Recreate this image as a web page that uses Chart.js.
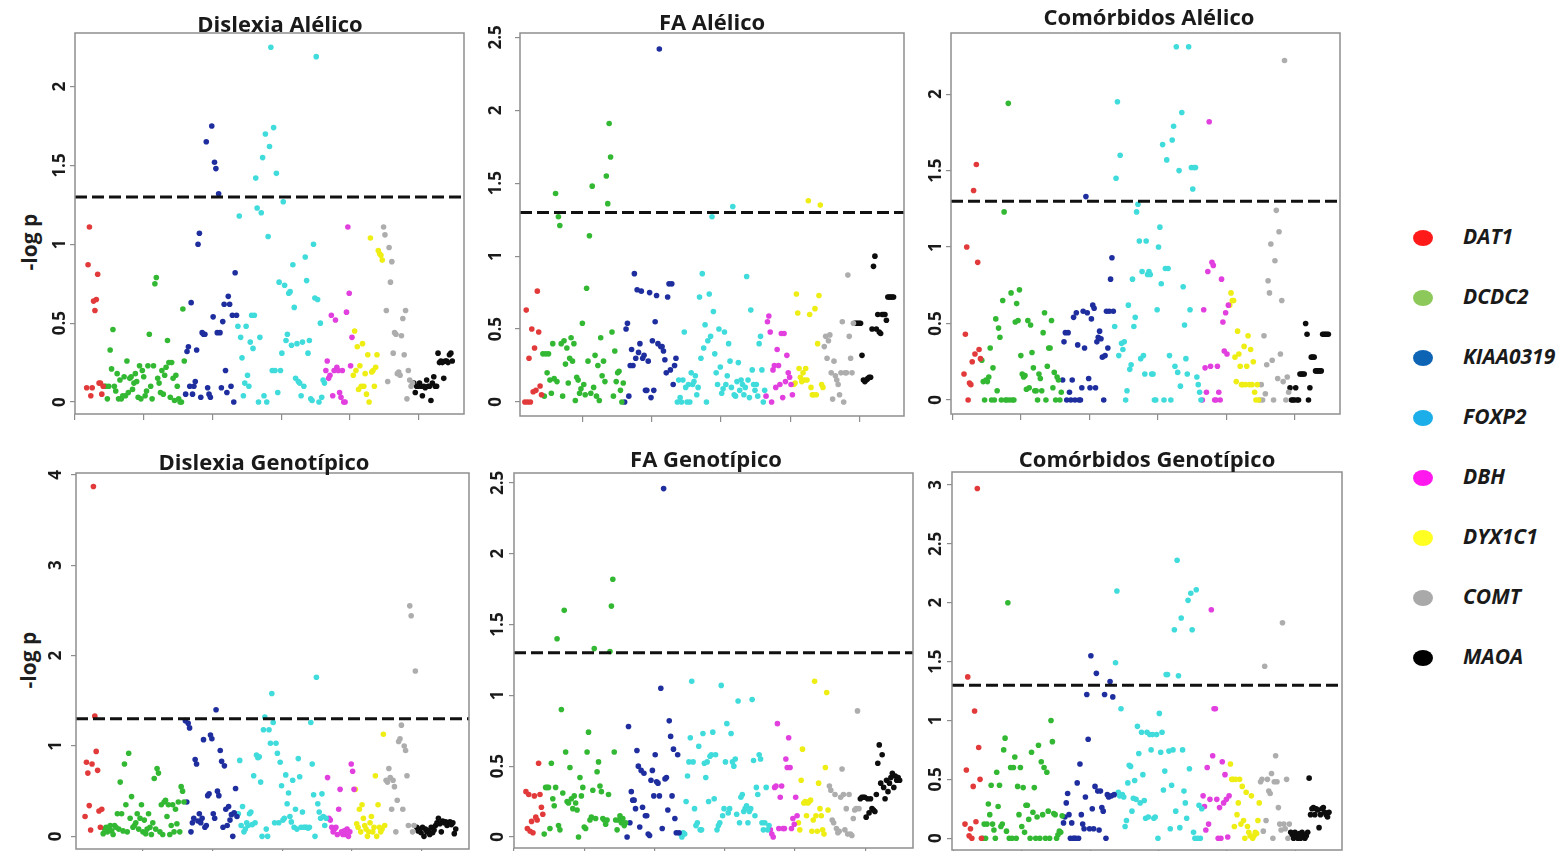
<!DOCTYPE html>
<html>
<head>
<meta charset="utf-8">
<script src="https://cdn.jsdelivr.net/npm/chart.js@4.4.1/dist/chart.umd.min.js"></script>
<style>
  body { margin: 0; width: 1566px; height: 851px; overflow: hidden; background: #fff; position: relative; font-family: "Open Sans", sans-serif; }
  canvas { position: absolute; }
  .ylab { position: absolute; font: bold 21px "Open Sans", sans-serif; color: #1e1e1e; white-space: nowrap; transform: translate(-50%, -50%) rotate(-90deg); }
  .fila { position: absolute; left: 1410px; height: 24px; }
  .fila .punto { position: absolute; left: 3px; top: 0; width: 20px; height: 16px; border-radius: 50%; }
  .fila .nombre { position: absolute; left: 53px; top: -8px; font: italic bold 21px "Open Sans", sans-serif; color: #1a1a1a; white-space: nowrap; }
</style>
</head>
<body>
<div class="ylab" style="left:29px; top:242px;">-log p</div>
<div class="ylab" style="left:28px; top:660px;">-log p</div>
<div id="leyenda"></div>

<script>
// genes en el orden del cromosoma / eje x
const genes = ["DAT1", "DCDC2", "KIAA0319", "FOXP2", "DBH", "DYX1C1", "COMT", "MAOA"];
// rango de índices de SNP que ocupa cada gen
const snpInicio = [8, 21, 80, 118, 182, 202, 224, 246];
const snpFin = [21, 80, 118, 182, 202, 224, 246, 275];
const umbral = 1.3; // -log10(0.05)

// -log p por gen, cada lista en orden de SNP
const dislexiaAlelico = [
  [0.09,0.87,1.11,0.04,0.09,0.64,0.58,0.65,0.81,0.12,0.12,0.05,0.1],
  [0.1,0.1,0.02,0.1,0.33,0.21,0.46,0.1,0.07,0.18,0.02,0.14,0.02,0.04,0.16,0.04,0.26,0.06,0.15,0.16,0.08,0.12,0.18,0.13,0.03,0.23,0.02,0.2,0.16,0.04,0.07,0.23,0.43,0.1,0.02,0.23,0.75,0.79,0.15,0.12,0.06,0.2,0.05,0.17,0.22,0.39,0.25,0.03,0.25,0.15,0.01,0.17,0.1,0.02,0.0,0.0,0.59,0.26],
  [0.05,0.32,0.35,0.1,0.63,0.05,0.1,0.13,0.33,1.0,1.07,0.03,0.44,0.43,0.43,1.65,0.09,0.05,0.03,1.75,0.54,1.52,1.48,0.44,1.32,0.44,0.09,0.51,0.62,0.2,0.06,0.67,0.62,0.1,0.55,0.0,0.82,0.55],
  [0.48,1.18,0.41,0.28,0.04,0.12,0.48,0.17,0.1,0.38,0.55,0.34,0.55,1.42,1.23,0.0,0.41,1.2,1.55,0.04,1.7,0.0,1.05,1.62,2.25,0.2,1.74,0.2,1.45,0.06,0.76,0.2,0.31,1.27,0.74,0.39,0.43,0.69,0.7,0.36,0.87,0.6,0.15,0.37,0.13,0.12,0.04,0.38,0.1,0.92,0.77,0.31,0.39,0.02,0.01,1.0,0.66,2.19,0.65,0.0,0.5,0.03,0.14,0.12],
  [0.2,0.26,0.15,0.17,0.55,0.04,0.2,0.52,0.22,0.2,0.06,0.03,0.2,0.0,0.0,0.57,1.11,0.69,0.23,0.41],
  [0.17,0.45,0.2,0.35,0.08,0.23,0.1,0.37,0.1,0.18,0.05,0.3,0.0,1.04,0.19,0.2,0.1,0.22,0.3,0.96,0.94,0.93,0.9],
  [1.11,1.06,0.58,0.13,0.98,0.76,0.89,0.31,0.44,0.43,0.18,0.19,0.17,0.42,0.53,0.3,0.58,0.02,0.2,0.14,0.1,0.12],
  [0.12,0.06,0.1,0.1,0.12,0.1,0.04,0.1,0.09,0.14,0.1,0.1,0.01,0.12,0.16,0.1,0.1,0.31,0.25,0.26,0.25,0.15,0.26,0.26,0.25,0.3,0.31,0.26]
];

const faAlelico = [
  [0,0.63,0,0.3,0,0.5,0.07,0.37,0.08,0.76,0.48,0.11,0.05],
  [0.33,0.04,0.33,0.2,0.33,0.15,0.06,0.4,0.16,1.43,0.14,1.27,1.21,0.4,0.04,0.42,0.26,0.37,0.13,0.3,0.44,0.28,0.4,0.01,0.17,0.15,0.06,0.09,0.54,0.12,0.05,0.78,0.28,1.14,0.06,1.48,0.1,0.32,0.04,0.25,0.01,0.44,0.18,0.28,0.14,1.55,1.36,1.91,1.68,0.48,0.04,0.35,0.14,0.2,0.21,0.08,0.0,0.13],
  [0.0,0.5,0.54,0.04,0.25,0.36,0.25,0.88,0.3,0.77,0.34,0.4,0.76,0.3,0.32,0.08,0.08,0.28,0.75,0.03,0.42,0.08,0.55,0.73,0.4,2.42,0.38,0.38,0.35,0.29,0.2,0.72,0.81,0.22,0.81,0.12,0.25,0.3],
  [0.0,0.15,0.03,0.0,0.15,0.48,0.1,0.0,0.12,0.0,0.2,0.12,0.14,0.18,0.05,0.1,0.72,0.3,0.88,0.37,0.53,0.0,0.42,0.74,0.45,1.27,0.62,0.33,0.2,0.12,0.5,0.24,0.06,0.09,0.48,0.12,0.18,0.4,0.28,0.1,1.34,0.05,0.04,0.14,0.27,0.08,0.15,0.12,0.05,0.1,0.86,0.15,0.03,0.63,0.22,0.12,0.08,0.12,0.04,0.4,0.45,0.22,0.0,0.08],
  [0.04,0.55,0.59,0.48,0.0,0.22,0.25,0.1,0.36,0.25,0.12,0.47,0.03,0.47,0.14,0.32,0.2,0.17,0.12,0.05],
  [0.12,0.13,0.74,0.61,0.23,0.17,0.14,0.2,0.15,0.23,0.15,1.38,0.6,0.1,0.05,0.05,0.64,0.05,0.4,0.73,1.35,0.12,0.1],
  [0.38,0.45,0.3,0.42,0.46,0.2,0.02,0.28,0.18,0.15,0.12,0.05,0.2,0.55,0.0,0.2,0.2,0.87,0.45,0.3,0.2,0.54],
  [0.54,0.54,0.54,0.54,0.54,0.32,0.15,0.14,0.15,0.16,0.17,0.17,0.5,0.93,1.0,0.5,0.6,0.48,0.47,0.6,0.6,0.6,0.56,0.72,0.72,0.72,0.72,0.72]
];

const comorbidosAlelico = [
  [0.17,0.43,1.0,0.0,0.11,0.1,0.25,1.37,0.3,1.54,0.9,0.33,0.27],
  [0.26,0.12,0.0,0.13,0.12,0.15,0.34,0.0,0.21,0.0,0.53,0.06,0.47,0.41,0.0,0.65,1.23,0.0,0.0,1.94,0.0,0.7,0.0,0.0,0.51,0.63,0.52,0.72,0.29,0.17,0.15,0.16,0.07,0.52,0.08,0.49,0.31,0.21,0.06,0.06,0.0,0.17,0.14,0.06,0.44,0.57,0.0,0.22,0.34,0.34,0.52,0.08,0.18,0.0,0.15,0.13,0.0,0.05],
  [0.13,0.38,0.44,0.0,0.44,0.05,0.0,0.13,0.54,0.0,0.57,0.36,0.0,0.0,0.08,0.58,0.34,1.33,0.57,0.14,0.08,0.53,0.62,0.6,0.08,0.38,0.41,0.45,0.4,0.28,0.0,0.29,0.58,0.34,0.58,0.79,0.93,0.58],
  [0.48,1.45,1.95,0.29,1.6,0.37,0.33,0.38,0.0,0.06,0.62,0.2,0.23,0.79,0.48,0.54,1.23,1.28,1.04,0.27,0.84,0.29,0.17,1.04,0.82,0.84,0.82,0.17,0.17,0.0,0.0,0.59,1.0,1.13,0.76,1.67,0.0,0.86,1.57,0.86,0.29,0.0,1.7,1.79,0.22,2.31,0.18,1.5,0.09,1.88,0.74,0.49,0.27,0.17,2.31,0.59,1.52,1.38,1.52,1.52,0.15,0.1,0.05,0.0],
  [0.0,0.59,0.21,0.05,0.84,1.82,0.22,0.9,0.88,0.0,0.0,0.22,0.05,0.0,0.79,0.51,0.32,0.57,0.3,0.62],
  [0.62,0.7,0.65,0.65,0.28,0.12,0.45,0.3,0.22,0.1,0.1,0.35,0.1,0.22,0.42,0.1,0.33,0.1,0.25,0.05,0.0,0.1,0.0],
  [0.0,0.1,0.0,0.42,0.04,0.23,0.78,0.7,1.02,0.26,0.0,0.91,1.24,0.14,1.1,0.3,0.65,0.12,2.22,0.0,0.15,0.05],
  [0.08,0.0,0.0,0.0,0.08,0.0,0.0,0.17,0.17,0.17,0.17,0.5,0.43,0.0,0.08,0.28,0.28,0.28,0.19,0.19,0.19,0.19,0.19,0.43,0.43,0.43,0.43,0.43]
];

const dislexiaGenotipico = [
  [0.22,0.82,0.7,0.34,0.07,0.8,3.87,1.33,0.94,0.73,0.28,0.1,0.3],
  [0.03,0.08,0.1,0.05,0.1,0.12,0.06,0.02,0.12,0.1,0.25,0.08,0.6,0.25,0.06,0.8,0.35,0.05,0.92,0.2,0.44,0.1,0.12,0.15,0.25,0.08,0.2,0.35,0.05,0.18,0.03,0.08,0.25,0.1,0.02,0.15,0.64,0.08,0.75,0.7,0.05,0.35,0.02,0.38,0.4,0.22,0.35,0.02,0.12,0.35,0.05,0.3,0.14,0.38,0.05,0.55,0.5,0.38],
  [1.28,0.38,1.25,1.2,0.05,0.15,0.2,0.85,0.8,0.17,0.25,0.15,0.2,1.07,0.1,0.12,0.45,0.47,1.12,1.08,0.25,0.2,1.4,0.5,0.45,0.95,0.83,0.1,0.78,0.3,0.12,0.33,0.18,0.24,0.0,0.26,0.53,0.22],
  [0.25,0.84,0.12,0.33,0.05,0.08,0.15,0.12,0.25,0.27,0.13,0.67,0.15,0.9,0.87,0.88,0.6,0.0,1.18,1.32,0.08,0.0,1.18,1.03,1.58,1.26,0.15,1.03,0.92,0.15,0.82,0.56,0.18,0.2,0.68,0.36,0.48,0.22,0.16,0.62,0.1,0.3,0.08,0.86,0.66,0.1,0.27,0.1,0.1,0.1,0.09,0.1,1.26,0.8,0.46,0.0,1.76,0.36,0.27,0.2,0.47,0.22,0.12,0.2],
  [0.65,0.2,0.18,0.1,0.05,0.08,0.1,0.02,0.3,0.52,0.05,0.02,0.06,0.02,0.08,0.0,0.05,0.8,0.72,0.52],
  [0.52,0.14,0.1,0.3,0.05,0.35,0.2,0.12,0.08,0.0,0.05,0.15,0.22,0.05,0.1,0.67,0.0,0.35,0.1,0.05,0.08,1.13,0.12],
  [0.62,0.6,0.75,0.65,0.3,0.62,0.55,0.05,0.4,1.05,1.08,1.23,0.3,1.0,0.95,0.67,0.12,2.55,2.44,0.05,0.12,1.83],
  [0.1,0.06,0.08,0.04,0.1,0.0,0.08,0.05,0.06,0.02,0.1,0.04,0.07,0.12,0.15,0.2,0.14,0.05,0.17,0.15,0.16,0.12,0.14,0.16,0.13,0.15,0.03,0.08]
];

const faGenotipico = [
  [0.32,0.06,0.3,0.04,0.11,0.03,0.29,0.14,0.12,0.52,0.3,0.21,0.16],
  [0.02,0.35,0.35,0.35,0.06,0.52,0.27,0.22,0.35,1.4,0.08,0.05,0.9,0.31,1.6,0.6,0.25,0.24,0.49,0.27,0.2,0.29,0.24,0.19,0.0,0.42,0.29,0.35,0.07,0.06,0.6,0.74,0.12,0.14,0.33,1.33,0.13,0.46,0.53,0.36,0.32,0.13,0.12,0.09,0.12,0.3,1.31,1.63,1.82,0.6,0.12,0.05,0.12,0.15,0.1,0.13,0.08,0.1],
  [0.0,0.78,0.1,0.32,0.26,0.26,0.2,0.61,0.5,0.07,0.47,0.21,0.45,0.15,0.15,0.02,0.01,0.4,0.47,0.29,0.58,0.39,0.38,0.29,1.05,0.06,2.46,0.41,0.42,0.19,0.82,0.71,0.29,0.62,0.13,0.03,0.58,0.03],
  [0.02,0.0,0.03,0.02,0.25,0.43,0.53,0.7,1.1,0.53,0.2,0.08,0.1,0.64,0.05,0.05,0.73,0.52,0.42,0.53,0.25,0.57,0.58,0.74,0.27,0.58,0.05,0.08,0.1,1.07,0.15,0.2,0.53,0.8,0.17,0.2,0.73,0.53,0.5,0.55,0.16,0.96,0.1,0.28,0.3,0.18,0.2,0.22,0.1,0.18,0.2,0.97,0.54,0.15,0.35,0.3,0.58,0.55,0.1,0.05,0.1,0.35,0.05,0.08],
  [0.05,0.02,0.0,0.35,0.36,0.8,0.06,0.28,0.36,0.06,0.06,0.55,0.49,0.7,0.49,0.06,0.13,0.09,0.28,0.15],
  [0.1,0.05,0.4,0.62,0.24,0.25,0.15,0.24,0.25,0.26,0.04,0.12,1.1,0.15,0.04,0.38,0.2,0.15,0.05,0.02,0.49,1.02,0.19],
  [0.36,0.33,0.12,0.1,0.3,0.06,0.03,0.04,0.28,0.48,0.3,0.05,0.2,0.02,0.3,0.02,0.01,0.13,0.19,0.2,0.89,0.2],
  [0.27,0.28,0.28,0.28,0.14,0.27,0.17,0.27,0.2,0.19,0.18,0.3,0.52,0.65,0.38,0.58,0.35,0.27,0.4,0.32,0.38,0.42,0.45,0.35,0.43,0.4,0.42,0.4]
];

const comorbidosGenotipico = [
  [0.12,0.58,1.37,0.02,0.08,0.0,0.44,1.08,0.14,2.97,0.77,0.5,0.0],
  [0.0,0.12,0.0,0.12,0.29,0.2,0.45,0.12,0.07,0.0,0.56,0.27,0.45,0.1,0.12,0.75,0.85,0.06,2.0,0.0,0.6,0.0,0.6,0.69,0.0,0.44,0.2,0.6,0.1,0.43,0.05,0.28,0.28,0.16,0.0,0.73,0.22,0.43,0.0,0.18,0.79,0.0,0.65,0.2,0.6,0.0,0.56,0.23,0.0,1.0,0.82,0.21,0.2,0.0,0.03,0.06,0.05,0.19],
  [0.13,0.18,0.3,0.38,0.2,0.0,0.13,0.0,0.0,0.0,0.47,0.0,0.63,0.2,0.12,0.08,0.35,1.22,0.84,0.08,1.55,0.25,0.08,0.44,1.4,0.4,0.07,0.4,0.26,0.23,1.22,0.0,0.37,0.35,1.33,0.36,1.2,0.37],
  [1.49,2.1,0.39,0.36,1.1,0.37,0.35,0.1,0.15,0.47,0.62,0.61,0.23,0.34,0.49,0.33,0.95,0.72,0.3,0.9,0.54,0.32,0.17,0.9,0.18,0.88,0.75,0.88,0.17,0.18,0.88,0.0,1.06,0.73,0.9,0.41,0.57,1.39,1.39,0.74,0.08,0.45,0.75,1.77,0.23,2.36,1.38,0.09,1.87,0.75,0.4,0.3,0.17,2.02,0.59,2.08,1.77,0.05,0.0,2.11,0.0,0.28,0.0,0.25],
  [0.36,0.27,0.07,0.6,0.12,0.33,1.94,0.7,1.1,1.1,0.33,0.0,0.26,0.0,0.65,0.3,0.54,0.33,0.01,0.36],
  [0.63,0.5,0.5,0.1,0.5,0.2,0.3,0.5,0.12,0.44,0.15,0.0,0.39,0.1,0.05,0.02,0.36,0.0,0.02,0.05,0.04,0.15,0.3],
  [0.48,0.5,0.06,1.46,0.15,0.5,0.4,0.38,0.55,0.0,0.48,0.7,0.48,0.26,0.12,0.07,1.83,0.12,0.08,0.5,0.0,0.12],
  [0.05,0.03,0.0,0.05,0.02,0.0,0.04,0.0,0.05,0.03,0.0,0.02,0.05,0.51,0.2,0.25,0.26,0.2,0.25,0.24,0.09,0.2,0.25,0.26,0.22,0.2,0.18,0.22]
];

// colores de los puntos y de la leyenda
const colorPunto = ["#e23a3a", "#33b833", "#1f2e9e", "#40dbdb", "#e23fdf", "#eeee14", "#adadad", "#0d0d0d"];
const colorLeyenda = ["#ff1a1a", "#8cc95a", "#0d64b5", "#1caee8", "#ff19ee", "#ffff22", "#a9a9a9", "#000000"];

// caja = [izq, arriba, der, abajo] del área de dibujo en la página
const paneles = [
  { titulo: "Dislexia Alélico", datos: dislexiaAlelico, caja: [75, 33, 464, 414], tituloX: 280, tituloBase: 1, xlim: [0, 283], ylim: [-0.076, 2.34], paso: 0.5, desfaseY: 15 },
  { titulo: "FA Alélico", datos: faAlelico, caja: [520, 33, 904, 416], tituloX: 712, tituloBase: 3, xlim: [5, 282], ylim: [-0.096, 2.53], paso: 0.5, desfaseY: 24 },
  { titulo: "Comórbidos Alélico", datos: comorbidosAlelico, caja: [951, 33, 1340, 414], tituloX: 1149, tituloBase: 8, xlim: [-1, 283], ylim: [-0.092, 2.4], paso: 0.5, desfaseY: 15 },
  { titulo: "Dislexia Genotípico", datos: dislexiaGenotipico, caja: [76, 473, 469, 849], tituloX: 264, tituloBase: 3, xlim: [2, 284], ylim: [-0.14, 4.02], paso: 1, desfaseY: 20 },
  { titulo: "FA Genotípico", datos: faGenotipico, caja: [514, 473, 913, 848], tituloX: 706, tituloBase: 6, xlim: [0, 284], ylim: [-0.078, 2.57], paso: 0.5, desfaseY: 15.5 },
  { titulo: "Comórbidos Genotípico", datos: comorbidosGenotipico, caja: [952, 472, 1342, 850], tituloX: 1147, tituloBase: 5, xlim: [-1, 284], ylim: [-0.1, 3.11], paso: 0.5, desfaseY: 15.5 }
];

const ANCHO_Y = 60, ALTO_X = 14, ALTO_TITULO = 35, MARGEN_DER = 8;

// marco gris, etiquetas del eje y giradas y título del panel
const marcoPlugin = {
  id: "marco",
  afterDraw(chart, args, opts) {
    const { ctx, chartArea: a } = chart;
    const y = chart.scales.y;
    ctx.save();
    ctx.strokeStyle = "#8e8e8e";
    ctx.lineWidth = 1.5;
    ctx.strokeRect(a.left, a.top, a.right - a.left, a.bottom - a.top);

    ctx.fillStyle = "#1a1a1a";
    ctx.font = 'bold 17px "Open Sans", sans-serif';
    ctx.textAlign = "center";
    ctx.textBaseline = "middle";
    y.ticks.forEach((t) => {
      ctx.save();
      ctx.translate(a.left - opts.desfaseY, y.getPixelForValue(t.value));
      ctx.rotate(-Math.PI / 2);
      ctx.fillText(String(t.value), 0, 0);
      ctx.restore();
    });

    ctx.fillStyle = "#1a1a1a";
    ctx.font = 'bold 22px "Open Sans", sans-serif';
    ctx.textBaseline = "alphabetic";
    ctx.fillText(opts.titulo, opts.tituloX, a.top - opts.tituloBase);
    ctx.restore();
  }
};

function crearDatasets(valores, xlim) {
  const ds = genes.map((g, k) => {
    const n = valores[k].length;
    const w = (snpFin[k] - snpInicio[k]) / n;
    return {
      label: g,
      data: valores[k].map((v, i) => ({ x: snpInicio[k] + (i + 0.5) * w, y: v })),
      pointRadius: 2.8,
      pointBorderWidth: 0,
      pointBackgroundColor: colorPunto[k],
      borderColor: colorPunto[k]
    };
  });
  // línea de significación p = 0.05
  ds.push({
    label: "p = 0.05",
    data: [{ x: xlim[0], y: umbral }, { x: xlim[1], y: umbral }],
    showLine: true,
    borderColor: "#111",
    borderWidth: 3,
    borderDash: [12, 5],
    pointRadius: 0,
    order: -1
  });
  return ds;
}

paneles.forEach((p) => {
  const [l, t, r, b] = p.caja;
  const canvas = document.createElement("canvas");
  const izq = l - ANCHO_Y, arriba = t - ALTO_TITULO;
  canvas.width = r - l + ANCHO_Y + MARGEN_DER;
  canvas.height = b - t + ALTO_TITULO + ALTO_X;
  canvas.style.left = izq + "px";
  canvas.style.top = arriba + "px";
  document.body.appendChild(canvas);

  new Chart(canvas, {
    type: "scatter",
    data: { datasets: crearDatasets(p.datos, p.xlim) },
    options: {
      responsive: false,
      animation: false,
      layout: { padding: { top: ALTO_TITULO, right: MARGEN_DER, left: 0, bottom: 0 } },
      plugins: {
        legend: { display: false },
        tooltip: { enabled: false },
        marco: { titulo: p.titulo, tituloX: p.tituloX - izq, tituloBase: p.tituloBase, desfaseY: p.desfaseY }
      },
      scales: {
        x: {
          type: "linear",
          min: p.xlim[0],
          max: p.xlim[1],
          afterFit: (s) => { s.height = ALTO_X; },
          ticks: { display: false, stepSize: 50, includeBounds: false },
          grid: { drawOnChartArea: false, drawTicks: true, tickLength: 6, color: "#8e8e8e", lineWidth: 1.2 },
          border: { display: false }
        },
        y: {
          type: "linear",
          min: p.ylim[0],
          max: p.ylim[1],
          afterFit: (s) => { s.width = ANCHO_Y; },
          ticks: { display: false, stepSize: p.paso, includeBounds: false },
          grid: { drawOnChartArea: false, drawTicks: true, tickLength: 5, color: "#8e8e8e", lineWidth: 1.2 },
          border: { display: false }
        }
      }
    },
    plugins: [marcoPlugin]
  });
});

// leyenda de genes a la derecha
const leyenda = document.getElementById("leyenda");
genes.forEach((g, k) => {
  const fila = document.createElement("div");
  fila.className = "fila";
  fila.style.top = (230 + k * 60) + "px";
  fila.innerHTML = '<div class="punto" style="background:' + colorLeyenda[k] + '"></div><div class="nombre">' + g + "</div>";
  leyenda.appendChild(fila);
});
</script>
</body>
</html>
